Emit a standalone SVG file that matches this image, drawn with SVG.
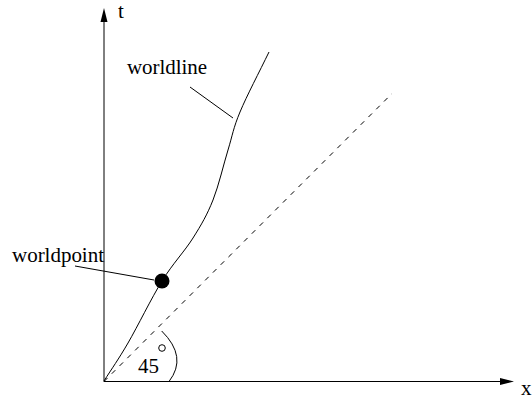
<svg xmlns="http://www.w3.org/2000/svg" width="532" height="402" viewBox="0 0 532 402">
<style>
.ln{fill:none;stroke:#000;stroke-width:1}
.txt{font-family:"Liberation Serif","Times New Roman",serif;font-size:21px;fill:#000}
</style>
<rect width="532" height="402" fill="#fff"/>
<g id="connectors">
<line class="ln" x1="104" y1="381.5" x2="104" y2="20"/>
<polygon points="104,8 100.5,22 107.5,22" fill="#000"/>
<line class="ln" x1="104" y1="381.5" x2="502" y2="381.5"/>
<polygon points="514,381.5 500,378 500,385" fill="#000"/>
<line class="ln" x1="104" y1="381.5" x2="392" y2="93.5" stroke-dasharray="5,6"/>
<path class="ln" stroke-width="1.4" d="M104,381 C112,368.3 118.3,359.7 128,343 C137.7,326.3 151.2,298.5 162,281 C172.8,263.5 184.5,251.5 193,238 C201.5,224.5 207.2,214.7 213,200 C218.8,185.3 223.5,164.7 228,150 C232.5,135.3 233.2,128.3 240,112 C246.8,95.7 259.3,72 269,52"/>
<line class="ln" x1="190" y1="87" x2="233" y2="118"/>
<line class="ln" x1="75" y1="266" x2="154" y2="280"/>
<path class="ln" d="M161.7,331 Q188,357 169,381.5"/>
</g>
<g id="axis-t"><text class="txt" x="118" y="18">t</text></g>
<g id="axis-x"><text class="txt" x="521" y="395">x</text></g>
<g id="worldline-label"><text class="txt" x="127" y="74" textLength="80">worldline</text></g>
<g id="worldpoint-label"><text class="txt" x="12" y="262" textLength="92">worldpoint</text></g>
<g id="worldpoint"><circle cx="162" cy="281" r="7.5" fill="#000"/></g>
<g id="angle-label"><text class="txt" x="138" y="373">45</text><circle cx="162" cy="348" r="3.3" fill="none" stroke="#000" stroke-width="1"/></g>
</svg>
